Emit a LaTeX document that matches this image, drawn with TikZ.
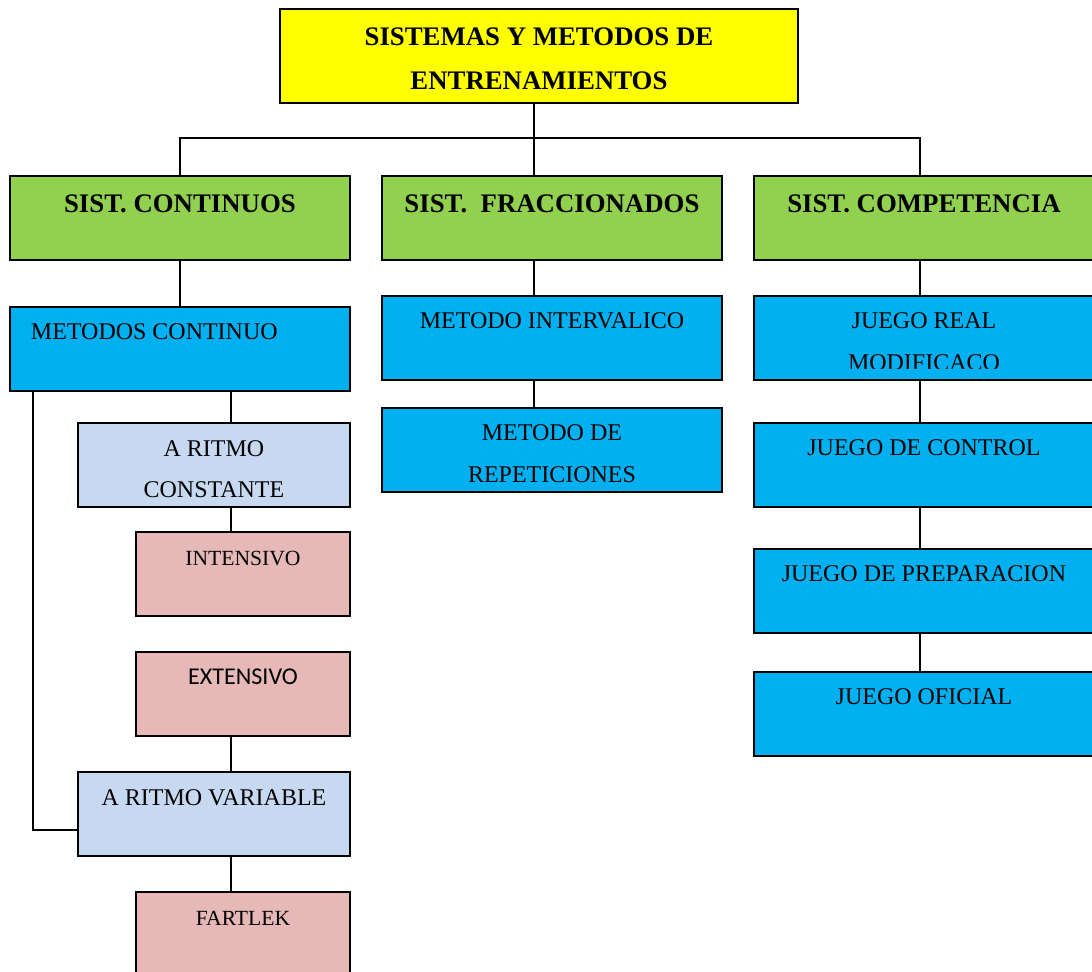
\documentclass[tikz,border=0pt]{standalone}
\usepackage{fontspec}
\setmainfont{Liberation Serif}
\newfontfamily\calibri{Carlito}
\usepackage{xcolor}
\usepackage{tikz}
\usetikzlibrary{positioning}

\definecolor{amarillo}{HTML}{FFFF00}
\definecolor{verde}{HTML}{92D050}
\definecolor{celeste}{HTML}{00B0F0}
\definecolor{azulclaro}{HTML}{C6D9F1}
\definecolor{rosa}{HTML}{E6B9B8}

% texto pegado arriba dentro de una caja de alto fijo
\newcommand{\caja}[3][1.68cm]{\parbox[c][#1][t]{#2}{\centering\rule{0pt}{0.66cm}#3}}

\begin{document}
\begin{tikzpicture}[x=0.02cm, y=-0.02cm,
  caja/.style={draw=black, line width=1.1pt, inner sep=0pt, outer sep=0pt, anchor=north west, font=\fontsize{13.65}{23.8}\selectfont},
  titulo/.style={caja, fill=amarillo, font=\bfseries\fontsize{15.25}{24.95}\selectfont},
  sistema/.style={caja, fill=verde, font=\bfseries\fontsize{15.25}{24.95}\selectfont},
  metodo/.style={caja, fill=celeste},
  ritmo/.style={caja, fill=azulclaro},
  tipo/.style={caja, fill=rosa, font=\fontsize{12.3}{23.8}\selectfont},
  linea/.style={line width=0.8pt}]
\useasboundingbox (0,0) rectangle (1092,971);
\clip (0,0) rectangle (1092,971);

\node[titulo] (titulo) at (280,9) {\caja[1.88cm]{10.36cm}{\rule{0pt}{0.74cm}SISTEMAS Y METODOS DE\\ENTRENAMIENTOS}};

\node[sistema] (cont) at (10,176) {\caja{6.8cm}{\rule{0pt}{0.72cm}SIST. CONTINUOS}};
\node[sistema] (frac) at (382,176) {\caja{6.8cm}{\rule{0pt}{0.72cm}SIST.\ \ FRACCIONADOS}};
\node[sistema] (comp) at (754,176) {\caja{6.8cm}{\rule{0pt}{0.72cm}SIST. COMPETENCIA}};

% sistemas continuos
\node[metodo, below=0.94cm of cont] (metcont) {\caja{6.8cm}{\raggedright\hspace*{0.42cm}METODOS CONTINUO}};
\node[ritmo] (rconst) at (78,423) {\caja{5.44cm}{A RITMO\\CONSTANTE}};
\node[tipo] (intens) at (136,532) {\caja{4.28cm}{INTENSIVO}};
\node[tipo, below=0.72cm of intens] (extens) {\caja{4.28cm}{\calibri\fontsize{13.7}{23.8}\selectfont EXTENSIVO}};
\node[ritmo] (rvar) at (78,772) {\caja{5.44cm}{A RITMO VARIABLE}};
\node[tipo] (fart) at (136,892) {\caja{4.28cm}{FARTLEK}};

% sistemas fraccionados
\node[metodo, below=0.72cm of frac] (metint) {\caja{6.8cm}{METODO INTERVALICO}};
\node[metodo, below=0.56cm of metint] (metrep) {\caja{6.8cm}{METODO DE\\REPETICIONES}};

% sistemas de competencia
\node[metodo, below=0.72cm of comp] (jreal) {\caja{6.8cm}{JUEGO REAL\\MODIFICACO}};
\node[metodo, below=0.86cm of jreal] (jcontrol) {\caja{6.8cm}{JUEGO DE CONTROL}};
\node[metodo, below=0.84cm of jcontrol] (jprep) {\caja{6.8cm}{JUEGO DE PREPARACION}};
\node[metodo, below=0.78cm of jprep] (joficial) {\caja{6.8cm}{JUEGO OFICIAL}};

% la segunda linea queda cortada por el marco
\fill[celeste] (757,368.5) rectangle (1093,378.8);

\coordinate (bus) at (534,138);
\coordinate (busder) at (920,138);
\coordinate (eje) at (231,0);
\coordinate (esq) at (33,830);

\draw[linea] (bus |- titulo.south) -- (bus);
\draw[linea] (cont.north) |- (bus) -- (busder) -- (busder |- comp.north);
\draw[linea] (bus) -- (bus |- frac.north);

\draw[linea]
(cont.south) -- (metcont.north)
(eje |- metcont.south) -- (eje |- rconst.north)
(eje |- rconst.south) -- (eje |- intens.north)
(eje |- extens.south) -- (eje |- rvar.north)
(eje |- rvar.south) -- (eje |- fart.north)
(esq |- metcont.south) -- (esq) -- (esq -| rvar.west);

\draw[linea]
(bus |- frac.south) -- (bus |- metint.north)
(bus |- metint.south) -- (bus |- metrep.north);

\draw[linea]
(busder |- comp.south) -- (busder |- jreal.north)
(busder |- jreal.south) -- (busder |- jcontrol.north)
(busder |- jcontrol.south) -- (busder |- jprep.north)
(busder |- jprep.south) -- (busder |- joficial.north);
\end{tikzpicture}
\end{document}
